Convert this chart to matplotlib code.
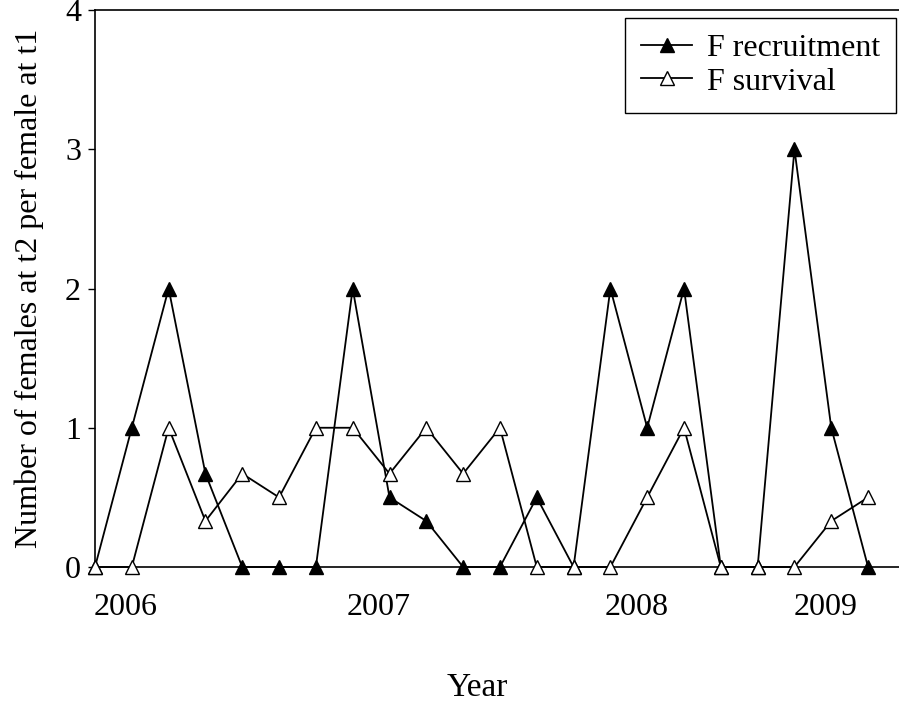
import matplotlib
matplotlib.use("Agg")
import matplotlib.pyplot as plt

plt.rcParams['font.family'] = ['Liberation Serif', 'DejaVu Serif']

# sampling occasions (index)
occasions = list(range(22))
f_recruitment = [0, 1, 2, 0.67, 0, 0, 0, 2, 0.5, 0.33, 0, 0, 0.5, 0, 2, 1, 2, 0, 0, 3, 1, 0]
f_survival = [0, 0, 1, 0.33, 0.67, 0.5, 1, 1, 0.67, 1, 0.67, 1, 0, 0, 0, 0.5, 1, 0, 0, 0, 0.33, 0.5]
year_labels = ['2006', '2007', '2008', '2009']
year_positions = [0.82, 7.7, 14.7, 19.85]

fig = plt.figure(figsize=(8.99, 7.06), dpi=100)
ax = fig.add_axes([95/899, 1 - 567/706, 1 - 95/899, (567 - 10)/706])

ax.plot(occasions, f_recruitment, color='black', lw=1.3, marker='^', ms=10,
        mfc='black', mec='black', mew=1, clip_on=False, zorder=3, label='F recruitment')
ax.plot(occasions, f_survival, color='black', lw=1.3, marker='^', ms=10,
        mfc='white', mec='black', mew=1, clip_on=False, zorder=4, label='F survival')

ax.set_xlim(0, 21.84)
ax.set_ylim(0, 4)
ax.set_yticks([0, 1, 2, 3, 4])
ax.set_yticklabels(['0', '1', '2', '3', '4'])
ax.set_xticks(year_positions)
ax.set_xticklabels(year_labels)
ax.tick_params(axis='y', direction='out', length=5, width=1, labelsize=23, pad=5)
ax.tick_params(axis='x', length=0, labelsize=23, pad=19)
ax.spines['right'].set_visible(False)
for s in ['left', 'top', 'bottom']:
    ax.spines[s].set_linewidth(1.2)

ax.set_ylabel('Number of females at t2 per female at t1', fontsize=23, labelpad=15)
fig.text(477/899, 1 - 688/706, 'Year', fontsize=24, ha='center', va='center')

leg = ax.legend(loc='upper right', bbox_to_anchor=(896/899, 1 - 18/706),
                bbox_transform=fig.transFigure, fontsize=23, frameon=True,
                fancybox=False, edgecolor='black', framealpha=1,
                handlelength=1.6, handletextpad=0.45, labelspacing=0.12,
                borderpad=0.5, borderaxespad=0)
leg.get_frame().set_linewidth(1.0)

fig.savefig('out.png', dpi=100)
